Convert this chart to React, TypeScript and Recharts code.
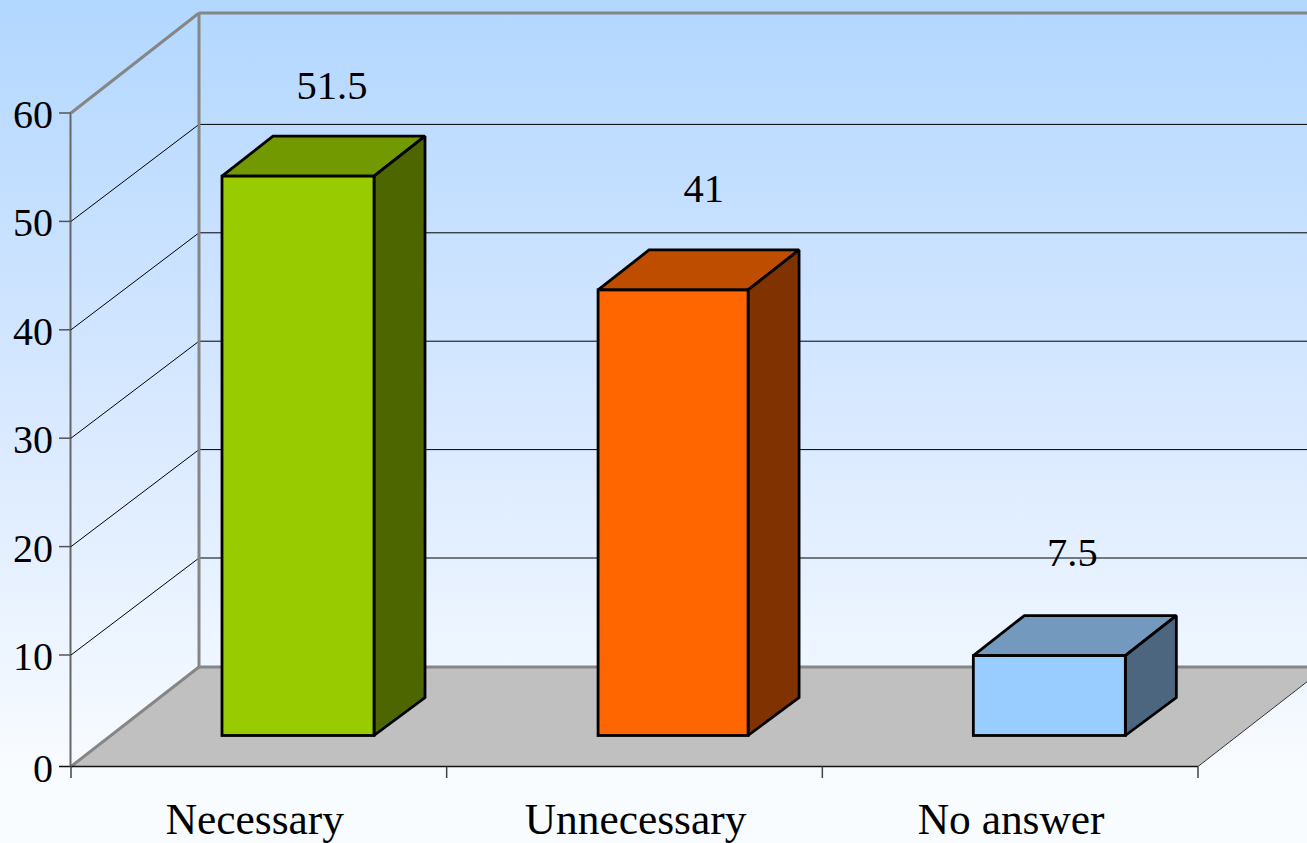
import { Bar, BarChart, CartesianGrid, LabelList, XAxis, YAxis } from 'recharts';

const categories = ['Necessary', 'Unnecessary', 'No answer'];
const values = [51.5, 41, 7.5];
const yTicks = [0, 10, 20, 30, 40, 50, 60];

const frontColors = ['#99cc00', '#ff6600', '#99ccff'];
const topColors = ['#739900', '#bf4d00', '#7399bf'];
const sideColors = ['#4d6600', '#803300', '#4d6680'];

const data = categories.map((name, i) => ({ name, value: values[i] }));

const WIDTH = 1307;
const HEIGHT = 843;
const PLOT_LEFT = 71;
const PLOT_RIGHT = 1198;
const PLOT_TOP = 113;
const PLOT_BOTTOM = 763.4;
const FLOOR_FRONT = 766.5; // the zero line sits a little under the scale in the original
const BAR_BASE = 735.5;
const FONT = '"Liberation Serif", serif';

const catWidth = (PLOT_RIGHT - PLOT_LEFT) / categories.length;

// small per bar corrections, the original is not quite regular
const labelDx = [34, 30, 23];
const labelDy = [-77, -88, -87];
const topNudge = [0, 0, 2.5];
const widthNudge = [0, -2, 0];
const nameNudge = [-4, 1, 1];

function wallLine(props: any) {
  const { x1, y1, x2, key } = props;
  if (Math.abs(y1 - PLOT_TOP) < 1) {
    return (
      <g key={key} fill="none" stroke="#868686" strokeWidth={3}>
        <line x1={x1} y1={y1} x2={x1 + 128} y2={13} />
        <line x1={x1 + 128} y1={13} x2={WIDTH} y2={13} />
        <line x1={x1 + 128} y1={13} x2={x1 + 128} y2={667} />
      </g>
    );
  }
  if (Math.abs(y1 - PLOT_BOTTOM) < 1) {
    return (
      <g key={key}>
        <polygon
          points={`${x1},${FLOOR_FRONT} ${x1 + 128},667 ${x2 + 128},667 ${x2},${FLOOR_FRONT}`}
          fill="#c0c0c0"
        />
        <line x1={x1} y1={FLOOR_FRONT} x2={x1 + 128} y2={667} stroke="#868686" strokeWidth={3} />
        <line x1={x1 + 128} y1={667} x2={WIDTH} y2={667} stroke="#868686" strokeWidth={3} />
        <line x1={x2} y1={FLOOR_FRONT} x2={x2 + 128} y2={667} stroke="#333" strokeWidth={1} />
        <line x1={59} y1={FLOOR_FRONT} x2={x2} y2={FLOOR_FRONT} stroke="#111" strokeWidth={1.5} />
        <line x1={x1 - 0.5} y1={PLOT_TOP} x2={x1 - 0.5} y2={FLOOR_FRONT} stroke="#666" strokeWidth={2} />
      </g>
    );
  }
  return (
    <g key={key} fill="none" stroke="#000" strokeWidth={1}>
      <line x1={x1} y1={y1} x2={x1 + 128} y2={y1 - 97} />
      <line x1={x1 + 128} y1={y1 - 97} x2={WIDTH} y2={y1 - 97} />
    </g>
  );
}

function Bar3D(props: any) {
  const { x, y, width, index } = props;
  const left = x + 39 + (index === 1 ? 0.4 : 0);
  const right = left + width + widthNudge[index];
  const top = y - 29 + topNudge[index];
  const dx = 51;
  const dy = 40;
  const baseDy = 38;
  return (
    <g stroke="#000" strokeWidth={2.8} strokeLinejoin="miter" strokeMiterlimit={1.5}>
      <polygon
        points={`${left},${top} ${left + dx},${top - dy} ${right + dx},${top - dy} ${right},${top}`}
        fill={topColors[index]}
      />
      <polygon
        points={`${right},${top} ${right + dx},${top - dy} ${right + dx},${BAR_BASE - baseDy} ${right},${BAR_BASE}`}
        fill={sideColors[index]}
      />
      <rect x={left} y={top} width={right - left} height={BAR_BASE - top} fill={frontColors[index]} />
    </g>
  );
}

function ValueLabel(props: any) {
  const { x, y, width, value, index } = props;
  return (
    <text
      x={x + 39 + width / 2 + labelDx[index]}
      y={y - 29 + labelDy[index]}
      textAnchor="middle"
      fontFamily={FONT}
      fontSize={40.5}
      fill="#000"
    >
      {value}
    </text>
  );
}

function YTick(props: any) {
  const { y, payload } = props;
  const ty = payload.value === 0 ? FLOOR_FRONT : y;
  return (
    <g>
      {payload.value !== 0 && <line x1={59} y1={ty} x2={PLOT_LEFT} y2={ty} stroke="#555" strokeWidth={1.5} />}
      <text x={53} y={ty + 15} textAnchor="end" fontFamily={FONT} fontSize={40} fill="#000">
        {payload.value}
      </text>
    </g>
  );
}

function XTick(props: any) {
  const { x, payload, index } = props;
  const edge = x - catWidth / 2;
  return (
    <g>
      <line x1={edge} y1={FLOOR_FRONT} x2={edge} y2={778} stroke="#444" strokeWidth={1.5} />
      {index === categories.length - 1 && (
        <line x1={edge + catWidth} y1={FLOOR_FRONT} x2={edge + catWidth} y2={778} stroke="#444" strokeWidth={1.5} />
      )}
      <text x={x + nameNudge[index]} y={834} textAnchor="middle" fontFamily={FONT} fontSize={43.4} fill="#000">
        {payload.value}
      </text>
    </g>
  );
}

export default function App() {
  return (
    <div
      style={{
        position: 'absolute',
        left: 0,
        top: 0,
        width: WIDTH,
        height: HEIGHT,
        overflow: 'hidden',
        background: 'linear-gradient(#b2d7ff 0%, #d9e9ff 50%, #f9fcff 92%, #f9fcff 100%)',
      }}
    >
      <BarChart
        width={WIDTH}
        height={HEIGHT}
        data={data}
        barSize={152}
        margin={{ top: PLOT_TOP, right: WIDTH - PLOT_RIGHT, bottom: 0, left: PLOT_LEFT - 60 }}
      >
        <CartesianGrid vertical={false} horizontal={wallLine} syncWithTicks />
        <XAxis
          dataKey="name"
          height={HEIGHT - PLOT_BOTTOM}
          axisLine={false}
          tickLine={false}
          interval={0}
          tick={XTick}
        />
        <YAxis
          width={60}
          domain={[0, 60]}
          ticks={yTicks}
          axisLine={false}
          tickLine={false}
          interval={0}
          tick={YTick}
        />
        <Bar dataKey="value" isAnimationActive={false} shape={Bar3D}>
          <LabelList dataKey="value" content={ValueLabel} />
        </Bar>
      </BarChart>
    </div>
  );
}
